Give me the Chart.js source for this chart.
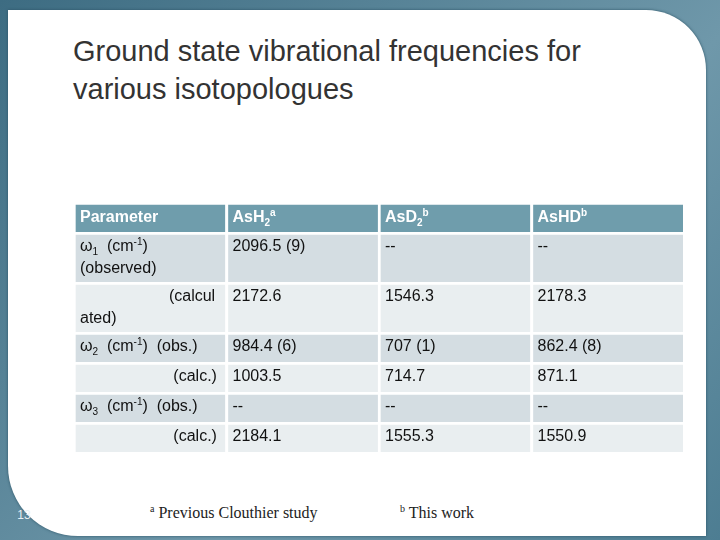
<!DOCTYPE html>
<html><head><meta charset="utf-8">
<script src="https://cdn.jsdelivr.net/npm/chart.js@4"></script>
<style>
body{margin:0;width:720px;height:540px;overflow:hidden;background:linear-gradient(135deg,#3d6c82,#6f98aa 60%,#4d7d92);font-family:"Liberation Sans",Arial,sans-serif;position:relative}
#panel{position:absolute;left:8px;top:10px;width:698px;height:526px;background:#fff;border-radius:0 60px 0 70px;box-shadow:0 0 3px #2d5466}
#title{position:absolute;left:73px;top:32px;font-size:29px;line-height:38px;color:#333}
#wrap{position:absolute;left:73px;top:202px;width:610px;height:250px}
.fn{position:absolute;top:503px;font-family:"Liberation Serif",serif;font-size:16px;color:#222}
#num{position:absolute;left:8px;top:508px;width:32px;text-align:center;font-size:12px;color:#e8f0f4}
</style></head><body>
<div id="panel"></div>
<div id="title">Ground state vibrational frequencies for<br>various isotopologues</div>
<div id="wrap"><canvas id="c"></canvas></div>
<div class="fn" style="left:150px"><sup style="font-size:10px">a</sup> Previous Clouthier study</div>
<div class="fn" style="left:400px"><sup style="font-size:10px">b</sup> This work</div>
<div id="num">13</div>
<script>
const columns = ["Parameter","AsH2","AsD2","AsHD"];
const rowHeights = [3,5,5,3,3,3,3];
const rowColors = ["#6f9dac","#d4dde2","#e9eef0","#d4dde2","#e9eef0","#d4dde2","#e9eef0"];
const cells = [
 [[[["Parameter","n"]]],[[["AsH","n"],["2","sub"],["a","sup"]]],[[["AsD","n"],["2","sub"],["b","sup"]]],[[["AsHD","n"],["b","sup"]]]],
 [[[["ω","n"],["1","sub"],["  (cm","n"],["-1","sup"],[")","n"]],[["(observed)","n"]]],[[["2096.5 (9)","n"]]],[[["--","n"]]],[[["--","n"]]]],
 [[[["                    (calcul","n"]],[["ated)","n"]]],[[["2172.6","n"]]],[[["1546.3","n"]]],[[["2178.3","n"]]]],
 [[[["ω","n"],["2","sub"],["  (cm","n"],["-1","sup"],[")  (obs.)","n"]]],[[["984.4 (6)","n"]]],[[["707 (1)","n"]]],[[["862.4 (8)","n"]]]],
 [[[["                     (calc.)","n"]]],[[["1003.5","n"]]],[[["714.7","n"]]],[[["871.1","n"]]]],
 [[[["ω","n"],["3","sub"],["  (cm","n"],["-1","sup"],[")  (obs.)","n"]]],[[["--","n"]]],[[["--","n"]]],[[["--","n"]]]],
 [[[["                     (calc.)","n"]]],[[["2184.1","n"]]],[[["1555.3","n"]]],[[["1550.9","n"]]]]
];
const datasets = rowHeights.map((v,i)=>({data:columns.map(()=>v),backgroundColor:rowColors[i],borderColor:"#fff",borderWidth:{top:3,bottom:0,left:3,right:0},borderSkipped:false,barPercentage:1,categoryPercentage:1}));
const textPlugin={id:"txt",afterDatasetsDraw(chart){
 const ctx=chart.ctx;
 datasets.forEach((d,r)=>{
  const meta=chart.getDatasetMeta(r);
  meta.data.forEach((bar,c)=>{
   const left=bar.x-bar.width/2+7;
   const top=Math.min(bar.y,bar.base)+3;
   cells[r][c].forEach((segs,li)=>{
    let x=left; const y=top+(r==0?13:12)+li*22;
    segs.forEach(([t,m])=>{
     const sz=m=="n"?16:10;
     ctx.font=(r==0?"bold ":"")+sz+"px 'Liberation Sans', Arial, sans-serif";
     ctx.fillStyle=r==0?"#fff":"#111";
     ctx.textBaseline="middle";
     const dy=m=="sub"?5:m=="sup"?-5:0;
     ctx.fillText(t,x,y+dy); x+=ctx.measureText(t).width;
    });
   });
  });
 });
}};
new Chart(document.getElementById("c"),{type:"bar",data:{labels:columns,datasets},
 options:{responsive:true,maintainAspectRatio:false,animation:false,layout:{padding:0},
  plugins:{legend:{display:false},tooltip:{enabled:false}},
  scales:{x:{stacked:true,display:false},y:{stacked:true,display:false,reverse:true,min:0,max:25}}},
 plugins:[textPlugin]});
</script></body></html>
